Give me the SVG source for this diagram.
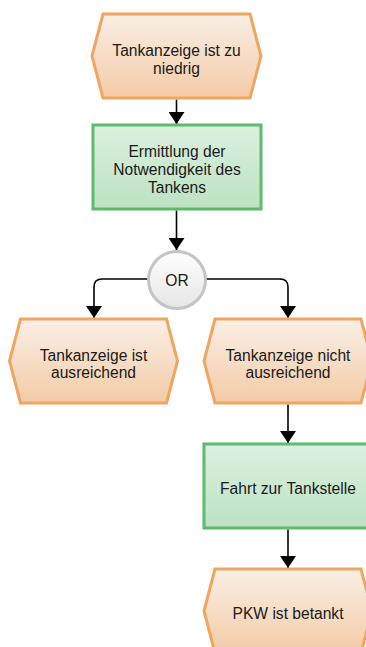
<svg xmlns="http://www.w3.org/2000/svg" width="366" height="647" viewBox="0 0 366 647">
  <style>
    .event { fill: url(#gEvent); stroke: #F0A660; stroke-width: 3; stroke-linejoin: miter; }
    .func { fill: url(#gFunc); stroke: #5DBB6E; stroke-width: 3; }
    .conn { fill: url(#gConn); stroke: #C4C4C4; stroke-width: 3; }
    .label { font-family: "Liberation Sans", Arial, sans-serif; font-size: 15.6px; fill: #1A1A1A; text-anchor: middle; }
    .edge { fill: none; stroke: #000; stroke-width: 1.6; }
  </style>
  <defs>
    <linearGradient id="gEvent" x1="0" y1="0" x2="0" y2="1">
      <stop offset="0" stop-color="#FAEFE6"/>
      <stop offset="1" stop-color="#F3CBA6"/>
    </linearGradient>
    <linearGradient id="gFunc" x1="0" y1="0" x2="0" y2="1">
      <stop offset="0" stop-color="#DCF0DF"/>
      <stop offset="1" stop-color="#BCE2C3"/>
    </linearGradient>
    <linearGradient id="gConn" x1="0" y1="0" x2="0" y2="1">
      <stop offset="0" stop-color="#FFFFFF"/>
      <stop offset="1" stop-color="#E6E6E6"/>
    </linearGradient>
    <marker id="arrow" markerUnits="userSpaceOnUse" markerWidth="12" markerHeight="16" refX="12" refY="8" orient="auto">
      <path d="M0,0 L12,8 L0,16 Z" fill="#000"/>
    </marker>
  </defs>

  <!-- connectors -->
  <g id="edges">
    <path class="edge" d="M176.5,99.5 V124" marker-end="url(#arrow)"/>
    <path class="edge" d="M176.5,210.5 V250" marker-end="url(#arrow)"/>
    <path class="edge" d="M148,279 H102 Q94,279 94,287 V318" marker-end="url(#arrow)"/>
    <path class="edge" d="M206,279 H280 Q288,279 288,287 V318" marker-end="url(#arrow)"/>
    <path class="edge" d="M288,404.5 V443" marker-end="url(#arrow)"/>
    <path class="edge" d="M288,529.5 V568" marker-end="url(#arrow)"/>
  </g>

  <!-- event: Tankanzeige ist zu niedrig -->
  <g id="e_niedrig">
    <polygon class="event" points="92,56 103,14 250,14 261,56 250,98 103,98"/>
    <text class="label" x="176.5" y="56">Tankanzeige ist zu</text>
    <text class="label" x="176.5" y="73.5">niedrig</text>
  </g>

  <!-- function: Ermittlung der Notwendigkeit des Tankens -->
  <g id="f_ermittlung">
    <rect class="func" x="93" y="125" width="168" height="84"/>
    <text class="label" x="177" y="157">Ermittlung der</text>
    <text class="label" x="177" y="175">Notwendigkeit des</text>
    <text class="label" x="177" y="193">Tankens</text>
  </g>

  <!-- OR connector -->
  <g id="c_or">
    <circle class="conn" cx="177" cy="280" r="28.5"/>
    <text class="label" x="177" y="286">OR</text>
  </g>

  <!-- event: Tankanzeige ist ausreichend -->
  <g id="e_ausreichend">
    <polygon class="event" points="9.5,361 20.5,319 166.5,319 177.5,361 166.5,403 20.5,403"/>
    <text class="label" x="93.5" y="360.5">Tankanzeige ist</text>
    <text class="label" x="93.5" y="378">ausreichend</text>
  </g>

  <!-- event: Tankanzeige nicht ausreichend -->
  <g id="e_nicht_ausreichend">
    <polygon class="event" points="204,361 215,319 361,319 372,361 361,403 215,403"/>
    <text class="label" x="288" y="360.5">Tankanzeige nicht</text>
    <text class="label" x="288" y="378">ausreichend</text>
  </g>

  <!-- function: Fahrt zur Tankstelle -->
  <g id="f_fahrt">
    <rect class="func" x="204" y="444" width="168" height="84"/>
    <text class="label" x="288" y="494">Fahrt zur Tankstelle</text>
  </g>

  <!-- event: PKW ist betankt -->
  <g id="e_betankt">
    <polygon class="event" points="204,611 215,569 361,569 372,611 361,653 215,653"/>
    <text class="label" x="288" y="619">PKW ist betankt</text>
  </g>
</svg>
